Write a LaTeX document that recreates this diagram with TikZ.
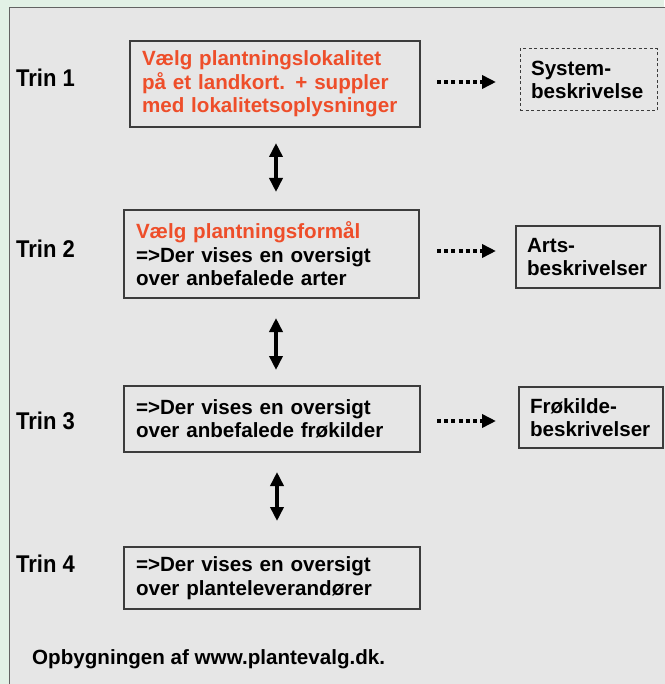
\documentclass[tikz,border=0pt]{standalone}
\usepackage{fontspec}
\usepackage{graphicx}
\setmainfont{Liberation Sans}
\usetikzlibrary{arrows.meta}
\definecolor{bggreen}{HTML}{E2F1E6}
\definecolor{panelgray}{HTML}{E6E6E6}
\definecolor{boxline}{HTML}{3C3C3C}
\definecolor{redtxt}{HTML}{EE4E2A}
\newcommand\vstretch[1]{\scalebox{1}[1.1]{#1}}
\tikzset{
  box/.style={draw=boxline, line width=1.1pt, inner xsep=12pt, inner ysep=0pt, align=left,
    font=\bfseries\fontsize{20.6}{23.5}\selectfont, anchor=center},
  sidebox/.style={box, inner xsep=11pt},
  trinlabel/.style={font=\bfseries\fontsize{22}{24}\selectfont, anchor=west, inner sep=0pt},
  dotarrow/.style={line width=4pt, dash pattern=on 4pt off 3.2pt, -{Triangle[length=14pt,width=13pt]}},
  dblarrow/.style={line width=3.6pt, {Triangle[length=14pt,width=13pt]}-{Triangle[length=14pt,width=13pt]}},
}
\begin{document}
\begin{tikzpicture}[x=1pt,y=-1pt]
\useasboundingbox (0,0) rectangle (664,684);
\fill[bggreen] (0,0) rectangle (664,684);
\filldraw[fill=panelgray, draw=boxline!80, line width=1pt] (9,8) rectangle (675,695);

% main boxes
\node[box, minimum width=290pt, minimum height=86pt, text width=266pt, text=redtxt] (b1) at (275,84)
  {Vælg plantningslokalitet\\på et landkort. + suppler\\med lokalitetsoplysninger};
\node[box, minimum width=295pt, minimum height=88pt, text width=271pt] (b2) at (271.5,254)
  {\textcolor{redtxt}{Vælg plantningsformål}\\=>Der vises en oversigt\\over anbefalede arter};
\node[box, minimum width=296pt, minimum height=66pt, text width=272pt] (b3) at (272,419)
  {=>Der vises en oversigt\\over anbefalede frøkilder};
\node[box, minimum width=296pt, minimum height=62pt, text width=272pt] (b4) at (272,578)
  {=>Der vises en oversigt\\over planteleverandører};

% side boxes
\node[sidebox, dashed, dash pattern=on 3pt off 2.5pt, line width=1pt, minimum width=137pt, minimum height=62pt, text width=115pt] (s1) at (588.5,80)
  {System-\\beskrivelse};
\node[sidebox, minimum width=144pt, minimum height=62pt, text width=122pt] (s2) at (588,257)
  {Arts-\\beskrivelser};
\node[sidebox, minimum width=144pt, minimum height=61pt, text width=122pt] (s3) at (591,417.5)
  {Frøkilde-\\beskrivelser};

% labels
\node[trinlabel] (t1) at (16,78) {\vstretch{Trin 1}};
\node[trinlabel] (t2) at (16,249) {\vstretch{Trin 2}};
\node[trinlabel] (t3) at (16,421) {\vstretch{Trin 3}};
\node[trinlabel] (t4) at (16,564) {\vstretch{Trin 4}};
\node[font=\bfseries\fontsize{20.6}{24}\selectfont, anchor=west, inner sep=0pt] (foot) at (32,659) {Opbygningen af www.plantevalg.dk.};

% dotted arrows
\coordinate (d1a) at (437,82); \coordinate (d1b) at (496,82);
\coordinate (d2a) at (437,251); \coordinate (d2b) at (496,251);
\coordinate (d3a) at (437,421); \coordinate (d3b) at (496,421);
\draw[dotarrow] (d1a) -- (d1b);
\draw[dotarrow] (d2a) -- (d2b);
\draw[dotarrow] (d3a) -- (d3b);

% double arrows
\coordinate (v1a) at (276,143); \coordinate (v1b) at (276,192);
\coordinate (v2a) at (276,318); \coordinate (v2b) at (276,370);
\coordinate (v3a) at (277,472); \coordinate (v3b) at (277,521);
\draw[dblarrow] (v1a) -- (v1b);
\draw[dblarrow] (v2a) -- (v2b);
\draw[dblarrow] (v3a) -- (v3b);
\end{tikzpicture}
\end{document}
